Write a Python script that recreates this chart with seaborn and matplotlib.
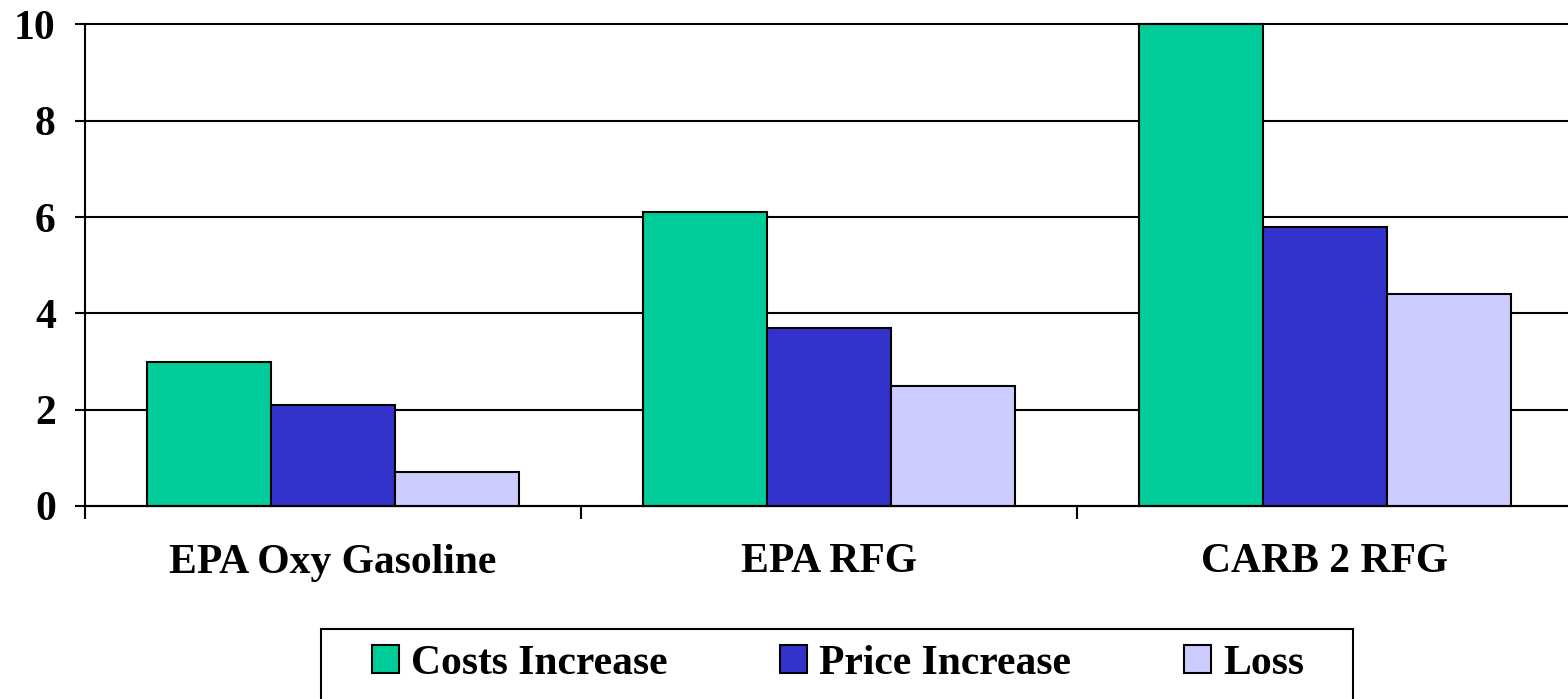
import seaborn as sns
import matplotlib.pyplot as plt
import matplotlib.patches as mpatches
import pandas as pd

# --- Data ---
categories = ["EPA Oxy Gasoline", "EPA RFG", "CARB 2 RFG"]
series = ["Costs Increase", "Price Increase", "Loss"]
costs_increase = [3.0, 6.1, 10.0]
price_increase = [2.1, 3.7, 5.8]
loss = [0.7, 2.5, 4.4]
colors = ["#00CC99", "#3333CC", "#CCCCFF"]

df = pd.DataFrame({
    "category": categories * 3,
    "series": [s for s in series for _ in categories],
    "value": costs_increase + price_increase + loss,
})

sns.set_style("white")
plt.rcParams["font.family"] = ["Liberation Serif", "DejaVu Serif"]
plt.rcParams["font.weight"] = "bold"
plt.rcParams["text.color"] = "black"
plt.rcParams["xtick.color"] = "black"
plt.rcParams["ytick.color"] = "black"

LW = 1.5

fig = plt.figure(figsize=(15.68, 6.99), dpi=100)
ax = fig.add_axes([85 / 1568, 1 - 506 / 699, 1488 / 1568, (506 - 24.5) / 699])

sns.barplot(data=df, x="category", y="value", hue="series",
            order=categories, hue_order=series, palette=colors,
            saturation=1, width=0.75, edgecolor="black", linewidth=LW,
            errorbar=None, ax=ax)

handles, labels = ax.get_legend_handles_labels()
if ax.get_legend() is not None:
    ax.get_legend().remove()

# --- Axes styling ---
ax.set_xlim(-0.5, 2.5)
ax.set_ylim(0, 10)
ax.set_yticks([0, 2, 4, 6, 8, 10])
ax.grid(axis="y", color="black", linewidth=LW)
ax.set_axisbelow(True)
for line in ax.get_ygridlines():
    line.set_clip_on(False)
for bar in ax.patches:
    bar.set_clip_on(False)
ax.set_xlabel("")
ax.set_ylabel("")

for side in ["top", "right"]:
    ax.spines[side].set_visible(False)
for side in ["left", "bottom"]:
    ax.spines[side].set_color("black")
    ax.spines[side].set_linewidth(LW)

# boundaries get the tick marks, centres get the labels
ax.set_xticks([-0.5, 0.5, 1.5, 2.5])
ax.set_xticklabels([])
ax.set_xticks([0, 1, 2], minor=True)
ax.set_xticklabels(categories, minor=True)
ax.tick_params(axis="x", which="major", bottom=True, direction="out",
               length=9, width=LW, color="black")
ax.tick_params(axis="x", which="minor", bottom=True, length=0, pad=27,
               labelsize=30, labelcolor="black")
ax.tick_params(axis="y", left=True, direction="out", length=7, width=LW,
               color="black", pad=14, labelsize=30, labelcolor="black")
for lbl in ax.get_xticklabels(minor=True) + ax.get_yticklabels():
    lbl.set_fontweight("bold")

# --- Legend ---
fig.legend(handles, labels, loc="center", ncol=3,
           bbox_to_anchor=(838 / 1568, 1 - 664 / 699),
           frameon=False, borderpad=0, handlelength=0.65, handleheight=0.65,
           handletextpad=0.29, columnspacing=2.7, labelcolor="black",
           prop={"family": "Liberation Serif", "weight": "bold", "size": 30})
fig.patches.append(mpatches.Rectangle(
    (321 / 1568, -0.05), (1353 - 321) / 1568, 1 - 629 / 699 + 0.05,
    transform=fig.transFigure, fill=False, edgecolor="black", linewidth=LW))

plt.savefig("out.png", dpi=100)
plt.close()
